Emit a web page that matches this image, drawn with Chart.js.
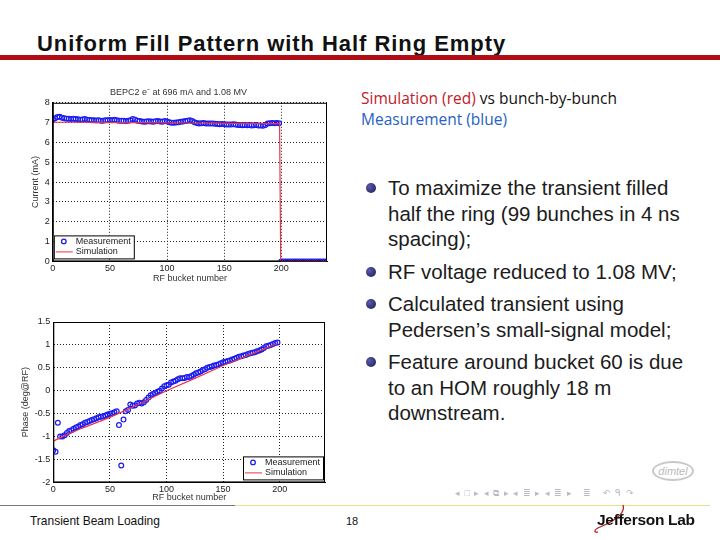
<!DOCTYPE html>
<html>
<head>
<meta charset="utf-8">
<script src="https://cdn.jsdelivr.net/npm/chart.js@4.4.0/dist/chart.umd.min.js"></script>
<style>
  body { margin: 0; width: 720px; height: 540px; background: #fff; position: relative; overflow: hidden; font-family: "Liberation Sans", Arial, sans-serif; }
  .abs { position: absolute; }
  #title { left: 37px; top: 31px; font-size: 22px; font-weight: bold; letter-spacing: 0.95px; color: #111; white-space: nowrap; }
  #redbar { left: 0; top: 55px; width: 720px; height: 5px; background: #b20d14; }
  #note { left: 361px; top: 88px; font-family: "Open Sans", "Noto Sans", sans-serif; font-size: 15.5px; line-height: 21px; color: #111; }
  #bullets { left: 365px; top: 175px; font-size: 20.5px; line-height: 25.5px; color: #1c1c1c; }
  .item { position: relative; padding-left: 23px; margin-bottom: 7px; }
  .item::before { content: ""; position: absolute; left: 1px; top: 8px; width: 10px; height: 10px; border-radius: 50%; background: radial-gradient(circle at 35% 35%, #5a5aa8, #1a1a58); }
  #topWrap { left: 10px; top: 84px; width: 330px; height: 200px; }
  #botWrap { left: 10px; top: 308px; width: 330px; height: 200px; }
  #lineGray { left: 0; top: 505px; width: 235px; height: 1px; background: #777; }
  #lineYellow { left: 235px; top: 505px; width: 475px; height: 1px; background: #e8e08a; }
  #foot1 { left: 30px; top: 513px; font-size: 13px; color: #111; transform: scaleX(0.92); transform-origin: left; }
  #foot2 { left: 346px; top: 515px; font-size: 11px; color: #111; }
  #jlab { left: 597px; top: 511px; font-size: 15.5px; font-weight: bold; color: #111; letter-spacing: -0.3px; }
  #nav { left: 455px; top: 488px; font-size: 9px; color: #b8b8c8; letter-spacing: 1px; white-space: nowrap; }
  #dimtel { left: 652px; top: 461px; width: 38px; height: 16px; border: 2px solid #c8c8c8; border-radius: 50%; font-size: 11px; font-style: italic; color: #bbb; text-align: center; line-height: 16px; }
</style>
</head>
<body>
<div id="title" class="abs">Uniform Fill Pattern with Half Ring Empty</div>
<div id="redbar" class="abs"></div>

<div id="note" class="abs"><span style="color:#c0202a">Simulation (red)</span> vs bunch-by-bunch<br><span style="color:#2462c4">Measurement (blue)</span></div>

<div id="bullets" class="abs">
  <div class="item">To maximize the transient filled<br>half the ring (99 bunches in 4 ns<br>spacing);</div>
  <div class="item">RF voltage reduced to 1.08 MV;</div>
  <div class="item">Calculated transient using<br>Pedersen’s small-signal model;</div>
  <div class="item">Feature around bucket 60 is due<br>to an HOM roughly 18 m<br>downstream.</div>
</div>

<div id="topWrap" class="abs"><canvas id="currentChart" width="330" height="200"></canvas></div>
<div id="botWrap" class="abs"><canvas id="phaseChart" width="330" height="200"></canvas></div>

<div id="dimtel" class="abs">dimtel</div>
<div id="nav" class="abs">◂ □ ▸ ◂ ⧉ ▸ ◂ ≣ ▸ ◂ ≣ ▸ &nbsp; ≣ &nbsp; ↶ ᑫ ↷</div>
<div id="lineGray" class="abs"></div>
<div id="lineYellow" class="abs"></div>
<div id="foot1" class="abs">Transient Beam Loading</div>
<div id="foot2" class="abs">18</div>
<svg class="abs" style="left:590px;top:500px" width="40" height="36">
  <path d="M33 5 C 36 14, 22 22, 10 27 C 3 30, 4 33, 8 32" fill="none" stroke="#b22" stroke-width="1.3"/>
</svg>
<div id="jlab" class="abs">Jefferson Lab</div>

<script>
// bucket numbers (every 2nd bucket of the filled half)
const filledBuckets = [0,2,4,6,8,10,12,14,16,18,20,22,24,26,28,30,32,34,36,38,40,42,44,46,48,50,52,54,56,58,60,62,64,66,68,70,72,74,76,78,80,82,84,86,88,90,92,94,96,98,100,102,104,106,108,110,112,114,116,118,120,122,124,126,128,130,132,134,136,138,140,142,144,146,148,150,152,154,156,158,160,162,164,166,168,170,172,174,176,178,180,182,184,186,188,190,192,194,196,198];
const emptyBuckets = [200,202,204,206,208,210,212,214,216,218,220,222,224,226,228,230,232,234,236,238,240];

// measured bunch current (mA)
const currentMeas = [7.15,7.22,7.28,7.3,7.25,7.22,7.2,7.2,7.18,7.2,7.18,7.17,7.15,7.16,7.18,7.15,7.13,7.12,7.12,7.11,7.12,7.1,7.1,7.12,7.12,7.13,7.12,7.15,7.12,7.1,7.1,7.1,7.08,7.1,7.12,7.18,7.15,7.1,7.08,7.06,7.05,7.06,7.07,7.06,7.05,7.07,7.08,7.06,7.05,7.08,7.06,7.02,7.0,7.0,7.01,7.02,7.04,7.06,7.08,7.1,7.12,7.08,7.02,6.98,6.96,6.97,6.98,6.96,6.95,6.96,6.95,6.94,6.93,6.92,6.93,6.92,6.9,6.9,6.9,6.92,6.9,6.88,6.88,6.87,6.88,6.87,6.88,6.86,6.87,6.88,6.86,6.85,6.84,6.88,6.95,6.97,6.98,6.97,6.98,6.97];
const currentEmpty = [0,0,0,0,0,0,0,0,0,0,0,0,0,0,0,0,0,0,0,0,0];

// simulated bunch current
const simCurX = [0,20,40,60,80,100,120,140,160,180,198.5,199.5,240];
const simCurY = [7.02,7.02,7.01,7.0,7.0,6.99,6.98,6.97,6.96,6.95,6.95,0,0];

// measured phase (deg@RF)
const phaseMeas = [-1.3,-1.33,-0.7,-1.0,-1.0,-0.97,-0.92,-0.88,-0.86,-0.83,-0.8,-0.78,-0.75,-0.73,-0.7,-0.68,-0.66,-0.64,-0.62,-0.6,-0.58,-0.57,-0.56,-0.54,-0.52,-0.5,-0.49,-0.47,-0.45,-0.75,-1.63,-0.63,-0.45,-0.42,-0.3,-0.33,-0.32,-0.28,-0.26,-0.28,-0.25,-0.2,-0.15,-0.1,-0.07,-0.05,-0.02,0.0,0.05,0.1,0.12,0.13,0.18,0.2,0.22,0.25,0.27,0.27,0.28,0.3,0.3,0.32,0.35,0.38,0.4,0.42,0.45,0.47,0.5,0.52,0.53,0.55,0.56,0.58,0.6,0.62,0.63,0.65,0.66,0.68,0.7,0.72,0.74,0.75,0.77,0.78,0.8,0.82,0.83,0.84,0.86,0.88,0.9,0.93,0.97,0.98,1.0,1.02,1.04,1.05];

// simulated phase
const simPhX = [0,10,25,50,75,100,125,150,175,198];
const simPhY = [-1.1,-0.98,-0.82,-0.58,-0.3,0.0,0.27,0.55,0.8,1.03];

const xTicks = [0,50,100,150,200];

const blue = '#1c1cf0';
const red = '#e8334a';

function pts(xs, ys) {
  return xs.map((x, i) => ({ x: x, y: ys[i] }));
}

// box round the plot + matlab style legend
const boxLegend = {
  id: 'boxLegend',
  afterDraw(chart, args, opts) {
    const ctx = chart.ctx;
    const a = chart.chartArea;
    ctx.save();
    ctx.strokeStyle = '#000';
    ctx.lineWidth = 1;
    ctx.strokeRect(a.left + 0.5, a.top + 0.5, a.right - a.left - 1, a.bottom - a.top - 1);

    const w = 80, h = 23;
    const x = opts.side === 'left' ? a.left + 1 : a.right - w - 2;
    const y = a.bottom - h - 3;
    ctx.fillStyle = '#fff';
    ctx.fillRect(x, y, w, h);
    ctx.strokeRect(x + 0.5, y + 0.5, w, h);
    ctx.font = '9px "Liberation Sans"';
    ctx.textBaseline = 'middle';
    ctx.fillStyle = '#222';
    ctx.strokeStyle = blue;
    ctx.lineWidth = 1.3;
    ctx.beginPath();
    ctx.arc(x + 10, y + 6, 2.3, 0, Math.PI * 2);
    ctx.stroke();
    ctx.fillText('Measurement', x + 22, y + 6);
    ctx.strokeStyle = red;
    ctx.lineWidth = 1;
    ctx.beginPath();
    ctx.moveTo(x + 2, y + 16.5);
    ctx.lineTo(x + 19, y + 16.5);
    ctx.stroke();
    ctx.fillText('Simulation', x + 22, y + 16);
    ctx.restore();
  }
};

function makeOptions(yMin, yMax, yStep, yTitle, title, legendSide, pad, xTitlePad) {
  return {
    animation: false,
    responsive: false,
    layout: { padding: pad },
    plugins: {
      legend: { display: false },
      tooltip: { enabled: false },
      title: {
        display: !!title,
        text: title,
        color: '#333',
        font: { family: 'Liberation Sans', size: 9, weight: 'normal' },
        padding: { top: 3, bottom: 5 }
      },
      boxLegend: { side: legendSide }
    },
    scales: {
      x: {
        type: 'linear',
        min: 0,
        max: 240,
        afterBuildTicks: s => { s.ticks = xTicks.map(v => ({ value: v })); },
        grid: { color: '#222', drawTicks: false },
        border: { dash: [1, 2], color: '#000' },
        ticks: { color: '#222', font: { family: 'Liberation Sans', size: 9 }, padding: 2, maxRotation: 0 },
        title: { display: true, text: 'RF bucket number', color: '#333', font: { family: 'Liberation Sans', size: 9 }, padding: { top: xTitlePad, bottom: 0 } }
      },
      y: {
        min: yMin,
        max: yMax,
        grid: { color: '#222', drawTicks: false },
        border: { dash: [1, 2], color: '#000' },
        ticks: {
          stepSize: yStep,
          color: '#222',
          font: { family: 'Liberation Sans', size: 9 },
          padding: 3,
          callback: v => String(Math.round(v * 10) / 10)
        },
        title: { display: true, text: yTitle, color: '#333', font: { family: 'Liberation Sans', size: 9 }, padding: { top: 0, bottom: 1 } }
      }
    }
  };
}

new Chart(document.getElementById('currentChart'), {
  type: 'scatter',
  data: {
    datasets: [
      {
        label: 'Simulation',
        data: pts(simCurX, simCurY),
        showLine: true,
        borderColor: red,
        borderWidth: 1.2,
        pointRadius: 0
      },
      {
        label: 'Measurement',
        data: pts(filledBuckets, currentMeas).concat(pts(emptyBuckets, currentEmpty)),
        borderColor: blue,
        backgroundColor: 'rgba(0,0,0,0)',
        borderWidth: 1.2,
        pointRadius: 2.4
      }
    ]
  },
  options: makeOptions(0, 8, 1, 'Current (mA)', ['BEPC2 e\u207B at 696 mA and 1.08 MV'], 'left', { top: 0, right: 13, left: 20, bottom: 0 }, -3),
  plugins: [boxLegend]
});

new Chart(document.getElementById('phaseChart'), {
  type: 'scatter',
  data: {
    datasets: [
      {
        label: 'Simulation',
        data: pts(simPhX, simPhY),
        showLine: true,
        borderColor: red,
        borderWidth: 1.2,
        pointRadius: 0
      },
      {
        label: 'Measurement',
        data: pts(filledBuckets, phaseMeas),
        borderColor: blue,
        backgroundColor: 'rgba(0,0,0,0)',
        borderWidth: 1.2,
        pointRadius: 2.4
      }
    ]
  },
  options: makeOptions(-2, 1.5, 0.5, 'Phase (deg@RF)', '', 'right', { top: 14, right: 15, left: 10, bottom: 5 }, -5),
  plugins: [boxLegend]
});
</script>
</body>
</html>
